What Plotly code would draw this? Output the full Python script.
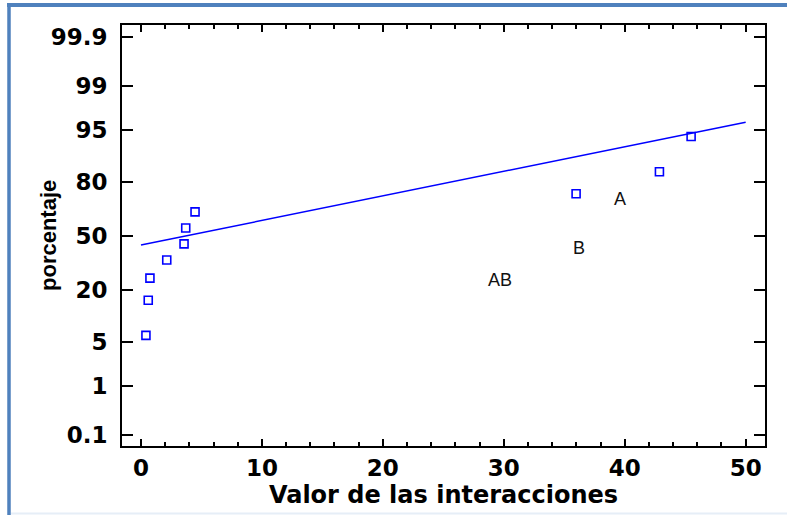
from statistics import NormalDist
import plotly.graph_objects as go

# ---- data ----
effect_values = [0.41, 0.60, 0.74, 2.13, 3.56, 3.70, 4.47, 35.98, 42.87, 45.49]
effect_pct = [6.1, 15.85, 25.6, 35.4, 45.1, 54.9, 64.6, 74.4, 84.1, 93.9]

line_x = [0, 50]
line_pct = [44.4, 96.15]

label_text = ["A", "B", "AB"]
label_x = [39.6, 36.2, 29.7]
label_pct = [71.5, 42.5, 24.5]

pct_ticks = [0.1, 1, 5, 20, 50, 80, 95, 99, 99.9]
pct_tick_text = ["0.1", "1", "5", "20", "50", "80", "95", "99", "99.9"]
x_ticks = [0, 10, 20, 30, 40, 50]

nd = NormalDist()
z = lambda p: nd.inv_cdf(p / 100.0)

fig = go.Figure()
fig.add_trace(go.Scatter(
    x=line_x, y=[z(p) for p in line_pct], mode="lines",
    line=dict(color="#0000FF", width=1.5), hoverinfo="skip", showlegend=False))
fig.add_trace(go.Scatter(
    x=effect_values, y=[z(p) for p in effect_pct], mode="markers",
    marker=dict(symbol="square-open", size=8, color="#0000FF", line=dict(width=1.6, color="#0000FF")),
    showlegend=False))

for t, xv, pv in zip(label_text, label_x, label_pct):
    fig.add_annotation(x=xv, y=z(pv), text=t, showarrow=False,
                       font=dict(family="Liberation Sans", size=18, color="#111111"))

# y-axis title as rotated annotation
fig.add_annotation(xref="paper", yref="paper", x=0, y=0.5, xshift=-73.5, text="porcentaje",
                   textangle=-90, showarrow=False, xanchor="center", yanchor="middle",
                   font=dict(family="Liberation Sans", size=22, weight="bold", color="#000000"))

L, R, T, B = 122, 22, 25, 69
W, H = 787, 515
pw, ph = W - L - R, H - T - B
def px(xp):
    return (xp - L) / pw
def py(yp):
    return (H - B - yp) / ph

# decorative page frame (blue)
fig.add_shape(type="line", xref="paper", yref="paper", x0=px(9), x1=px(9), y0=py(3), y1=py(515),
              line=dict(color="#4F81BD", width=3.5), layer="above")
fig.add_shape(type="line", xref="paper", yref="paper", x0=px(7), x1=px(787), y0=py(5), y1=py(5),
              line=dict(color="#4F81BD", width=4), layer="above")
fig.add_shape(type="line", xref="paper", yref="paper", x0=px(11), x1=px(787), y0=py(513.5), y1=py(513.5),
              line=dict(color="#E6EEF7", width=2), layer="above")

tickfont = dict(family="DejaVu Sans", size=23, weight="bold", color="#000000")
fig.update_layout(
    width=W, height=H,
    margin=dict(l=L, r=R, t=T, b=B, autoexpand=False),
    paper_bgcolor="white", plot_bgcolor="white",
    xaxis=dict(
        range=[-1.57, 51.6], tickvals=x_ticks, ticks="inside", ticklen=7, tickwidth=2,
        tickcolor="#000000", showline=True, linecolor="#000000", linewidth=2, mirror="allticks",
        showgrid=False, zeroline=False, tickfont=tickfont, ticklabelstandoff=0, automargin=False,
        minor=dict(dtick=2, ticks="inside", ticklen=4, tickwidth=1.5, tickcolor="#000000", showgrid=False),
        title=dict(text="Valor de las interacciones", standoff=7,
                   font=dict(family="DejaVu Sans", size=24, weight="bold", color="#000000")),
    ),
    yaxis=dict(
        range=[-3.266, 3.28], tickvals=[z(p) for p in pct_ticks], ticktext=pct_tick_text,
        ticks="inside", ticklen=11, tickwidth=2, tickcolor="#000000",
        showline=True, linecolor="#000000", linewidth=2, mirror="allticks", automargin=False,
        showgrid=False, zeroline=False, tickfont=tickfont, ticklabelstandoff=8,
    ),
)

fig.write_html("out.html", config={"displayModeBar": False},
               post_script="document.body.style.margin='0';document.body.style.overflow='hidden';")
